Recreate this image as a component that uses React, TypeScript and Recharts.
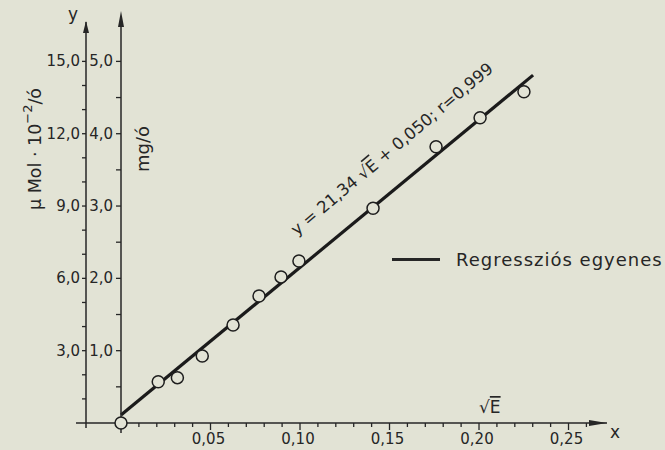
import React from 'react';
import { ComposedChart, Line, Scatter, XAxis, YAxis, Legend } from 'recharts';

// measured points, x = sqrt(E), y in mg/ó
const sqrtE = [0, 0.0208, 0.0315, 0.0454, 0.0626, 0.0771, 0.0894, 0.0994, 0.1408, 0.176, 0.2006, 0.2251];
const mgPerHour = [0, 0.571, 0.627, 0.927, 1.355, 1.757, 2.02, 2.24, 2.97, 3.82, 4.22, 4.58];

// regression line end points
const fitX = [0, 0.2302];
const fitY = [0.11, 4.81];

const xTicks = [0.01, 0.02, 0.03, 0.04, 0.05, 0.06, 0.07, 0.08, 0.09, 0.1, 0.11, 0.12, 0.13, 0.14, 0.15,
  0.16, 0.17, 0.18, 0.19, 0.2, 0.21, 0.22, 0.23, 0.24, 0.25, 0.26];
const mgTicks = [0.5, 1, 1.5, 2, 2.5, 3, 3.5, 4, 4.5, 5];
const molTicks = [1, 2, 3, 4, 5, 6, 7, 8, 9, 10, 11, 12, 13, 14, 15];

const BG = '#e2e3d5';
const INK = '#262626';
const FONT = "'DejaVu Sans', sans-serif";

const points = sqrtE.map((x, i) => ({ x, y: mgPerHour[i] }));
const fit = fitX.map((x, i) => ({ x, y: fitY[i] }));

const comma = (v: number, d: number) => v.toFixed(d).replace('.', ',');

const XTick = (props: any) => {
  const { x, y, payload } = props;
  const v = payload.value as number;
  const major = Math.round(v * 100) % 5 === 0;
  return (
    <g>
      <line x1={x} x2={x} y1={y} y2={y + (major ? 7 : 4)} stroke={INK} strokeWidth={1.3} />
      {major && (
        <text x={x - 2} y={y + 10} textAnchor="middle" dominantBaseline="hanging" fontSize={15} fill={INK} fontFamily={FONT}>
          {comma(v, 2)}
        </text>
      )}
    </g>
  );
};

const MgTick = (props: any) => {
  const { x, y, payload } = props;
  const v = payload.value as number;
  const major = Number.isInteger(v);
  return (
    <g>
      <line x1={x - 5} x2={x} y1={y} y2={y} stroke={INK} strokeWidth={1.3} />
      {major && (
        <text x={x - 8} y={y} textAnchor="end" dominantBaseline="central" fontSize={15} fill={INK} fontFamily={FONT}>
          {comma(v, 1)}
        </text>
      )}
    </g>
  );
};

const MolTick = (props: any) => {
  const { x, y, payload } = props;
  const v = payload.value as number;
  const major = v % 3 === 0;
  return (
    <g>
      <line x1={x - 4} x2={x} y1={y} y2={y} stroke={INK} strokeWidth={1.3} />
      {major && (
        <text x={x - 6} y={y} textAnchor="end" dominantBaseline="central" fontSize={15} fill={INK} fontFamily={FONT}>
          {comma(v, 1)}
        </text>
      )}
    </g>
  );
};

const XDecor = (props: any) => {
  const { x, y, width } = props.viewBox;
  const right = x + width;
  return (
    <g>
      <line x1={x - 45} x2={x} y1={y} y2={y} stroke={INK} strokeWidth={1.5} />
      <polygon points={`${right},${y} ${right - 18},${y - 3} ${right - 18},${y + 3}`} fill={INK} />
      <text x={right + 3} y={y + 15} fontSize={17} fill={INK} fontFamily={FONT}>x</text>
      <text x={right - 128} y={y - 10} fontSize={17} fill={INK} fontFamily={FONT}>
        √<tspan textDecoration="overline">E</tspan>
      </text>
    </g>
  );
};

const MgDecor = (props: any) => {
  const { x, y, width, height } = props.viewBox;
  const ax = x + width;
  return (
    <g>
      <line x1={ax} x2={ax} y1={y + height} y2={y + height + 10} stroke={INK} strokeWidth={1.5} />
      <polygon points={`${ax},${y - 7} ${ax - 3},${y + 9} ${ax + 3},${y + 9}`} fill={INK} />
      <text transform={`translate(${ax + 21},${y + 131}) rotate(-90)`} textAnchor="middle" dominantBaseline="central"
        fontSize={18} fill={INK} fontFamily={FONT}>
        mg/ó
      </text>
    </g>
  );
};

const MolDecor = (props: any) => {
  const { x, y, width, height } = props.viewBox;
  const ax = x + width;
  return (
    <g>
      <line x1={ax} x2={ax} y1={y + 4} y2={y + height + 5} stroke={INK} strokeWidth={1.5} />
      <polygon points={`${ax},${y + 3} ${ax - 3},${y + 15} ${ax + 3},${y + 15}`} fill={INK} />
      <text x={ax - 13} y={y + 2} textAnchor="middle" fontSize={17} fill={INK} fontFamily={FONT}>y</text>
      <text transform={`translate(${ax - 51},${y + 131}) rotate(-90)`} textAnchor="middle" dominantBaseline="central"
        fontSize={17.5} fill={INK} fontFamily={FONT}>
        μ Mol · 10<tspan dy={-8} fontSize={13}>−2</tspan><tspan dy={8}>/ó</tspan>
      </text>
    </g>
  );
};

const LegendBox = () => (
  <div style={{ display: 'flex', alignItems: 'center', fontFamily: FONT, fontSize: 18, letterSpacing: 1, color: INK, whiteSpace: 'nowrap' }}>
    <div style={{ width: 48, height: 3, background: INK, marginRight: 16 }} />
    <span>Regressziós egyenes</span>
  </div>
);

export default function App() {
  return (
    <div style={{ position: 'absolute', left: 0, top: 0, width: 665, height: 450, background: BG }}>
      <ComposedChart width={665} height={450} margin={{ top: 18, right: 58, bottom: 0, left: 16 }}>
        <XAxis type="number" dataKey="x" domain={[0, 0.2715]} ticks={xTicks} interval={0}
          tick={<XTick />} tickLine={false} tickSize={0} tickMargin={0} height={27}
          axisLine={{ stroke: INK, strokeWidth: 1.5 }} label={{ content: XDecor }} />
        <YAxis yAxisId="mg" type="number" domain={[0, 5.6]} ticks={mgTicks} interval={0}
          tick={<MgTick />} tickLine={false} tickSize={0} tickMargin={0} width={35}
          axisLine={{ stroke: INK, strokeWidth: 1.5 }} label={{ content: MgDecor }} />
        <YAxis yAxisId="mol" type="number" domain={[0, 16.8]} allowDataOverflow ticks={molTicks} interval={0}
          tick={<MolTick />} tickLine={false} tickSize={0} tickMargin={0} width={70}
          axisLine={false} label={{ content: MolDecor }} />
        <Legend layout="vertical" align="center" verticalAlign="middle" content={<LegendBox />}
          wrapperStyle={{ left: 392, top: 249, width: 280 }} />
        <Line yAxisId="mg" data={fit} dataKey="y" type="linear" stroke="#1b1b1b" strokeWidth={3.2} dot={false}
          isAnimationActive={false} legendType="line" />
        <Scatter yAxisId="mg" data={points} dataKey="y" isAnimationActive={false}
          shape={(p: any) => <circle cx={p.cx} cy={p.cy} r={6} fill={BG} stroke="#1e1e1e" strokeWidth={1.5} />} />
        <text transform="translate(392,149) rotate(-40)" textAnchor="middle" dominantBaseline="central"
          fontSize={16.5} fill={INK} fontFamily={FONT}>
          y = 21,34 √<tspan textDecoration="overline">E</tspan> + 0,050;  r=0,999
        </text>
      </ComposedChart>
    </div>
  );
}
